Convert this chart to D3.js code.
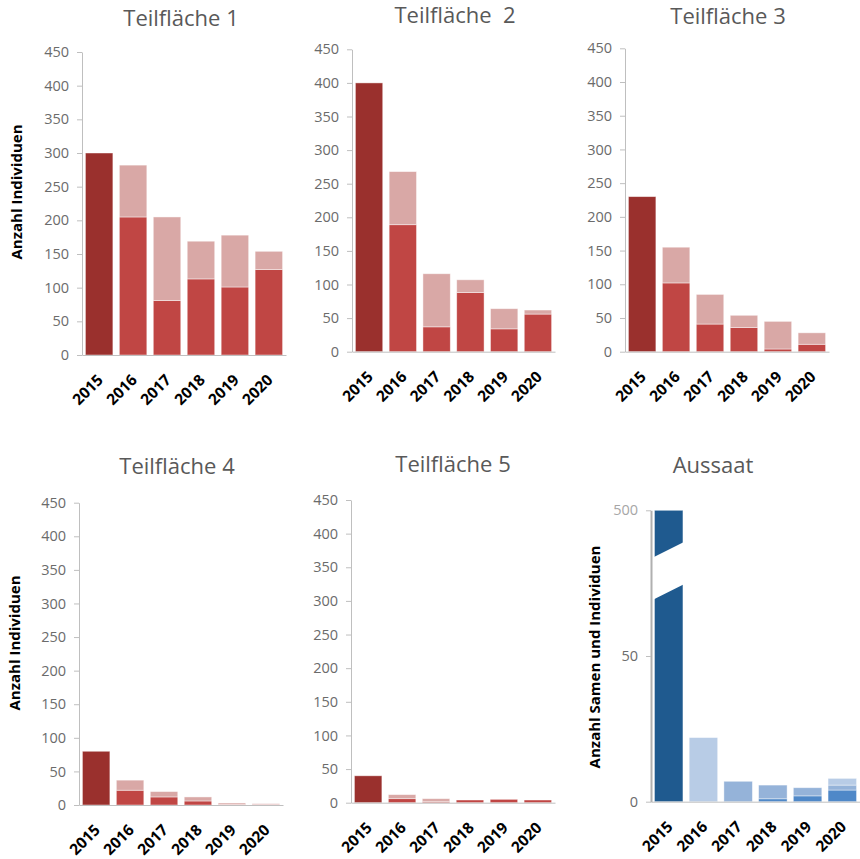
<!DOCTYPE html>
<html>
<head>
<meta charset="utf-8">
<script src="https://cdn.jsdelivr.net/npm/d3@7/dist/d3.min.js"></script>
<style>
  html, body { margin: 0; padding: 0; background: #fff; }
  svg { display: block; }
</style>
</head>
<body>
<svg id="chart" width="860" height="859"></svg>
<script>
// ---------------- DATA ----------------
const years = ["2015", "2016", "2017", "2018", "2019", "2020"];
const yTicksT = [0, 50, 100, 150, 200, 250, 300, 350, 400, 450];

const titles = ["Teilfläche 1", "Teilfläche  2", "Teilfläche 3", "Teilfläche 4", "Teilfläche 5", "Aussaat"];

// lower (dark/red) segment and upper (light) segment per year
const t1Lower = [300, 205, 81, 113, 101, 127];
const t1Upper = [0, 77, 124, 56, 77, 27];
const t2Lower = [400, 189, 37, 88, 34, 56];
const t2Upper = [0, 79, 79, 19, 30, 6];
const t3Lower = [230, 102, 41, 36, 4, 11];
const t3Upper = [0, 53, 44, 18, 41, 17];
const t4Lower = [80, 22, 12, 6, 1, 1];
const t4Upper = [0, 15, 8, 6, 2, 1];
const t5Lower = [40, 6, 2, 4, 5, 4];
const t5Upper = [0, 6, 4, 0, 0, 0];

// Aussaat (stack order bottom -> top)
const ausNavy   = [500, 0, 0, 0, 0, 0];
const ausBright = [0, 0, 0, 1, 2, 4];
const ausMedium = [0, 0, 7, 4.7, 2.8, 1.7];
const ausLight  = [0, 22, 0, 0, 0, 2.3];
const ausTickValues = [0, 50, 100];
const ausTickLabels = ["0", "50", "500"];

// ---------------- STYLE / LAYOUT ----------------
const C = {
  dark: "#9a302d", red: "#c04644", pink: "#d9a8a6",
  navy: "#1f5a8f", bright: "#4f88c8", medium: "#95b3d9", light: "#b8cce6",
  axis: "#bfbfbf", tick: "#6b6b6b", title: "#595959"
};
const FONT = "'Open Sans', 'Liberation Sans', sans-serif";

const panels = [
  { x0: 82,  x1: 286, y0: 355,   yTop: 52,    titleX: 181, titleY: 26,  ylab: { x: 17, y: 192 }, lower: t1Lower, upper: t1Upper },
  { x0: 352, x1: 555, y0: 351.7, yTop: 49.3,  titleX: 455, titleY: 23,  ylab: null,              lower: t2Lower, upper: t2Upper },
  { x0: 625, x1: 829, y0: 351.7, yTop: 48.3,  titleX: 728, titleY: 24,  ylab: null,              lower: t3Lower, upper: t3Upper },
  { x0: 79,  x1: 283, y0: 805,   yTop: 502.7, titleX: 177, titleY: 474, ylab: { x: 15, y: 643 }, lower: t4Lower, upper: t4Upper },
  { x0: 351, x1: 555, y0: 802.7, yTop: 500,   titleX: 453, titleY: 472, ylab: null,              lower: t5Lower, upper: t5Upper }
];

const svg = d3.select("#chart");

function xAxisLabels(g, x, y0) {
  const ax = d3.axisBottom(x).tickSize(0).tickSizeOuter(0);
  const gg = g.append("g").attr("transform", `translate(0,${y0})`).call(ax);
  gg.select(".domain").attr("stroke", C.axis).attr("stroke-width", 1);
  gg.selectAll("text")
    .attr("x", null).attr("y", null).attr("dy", null)
    .attr("transform", "translate(5,26) rotate(-45)")
    .style("text-anchor", "end")
    .attr("fill", "#000")
    .style("font-family", FONT)
    .style("font-weight", "bold")
    .style("font-size", "15.5px");
}

function yAxisLeft(g, y, x0, values, labels) {
  const ax = d3.axisLeft(y).tickValues(values).tickSize(5).tickSizeOuter(0).tickPadding(8);
  if (labels) ax.tickFormat((d, i) => labels[i]);
  const gg = g.append("g").attr("transform", `translate(${x0},0)`).call(ax);
  gg.select(".domain").attr("stroke", C.axis);
  gg.selectAll(".tick line").attr("stroke", C.axis);
  gg.selectAll("text").attr("fill", C.tick)
    .style("font-family", FONT).style("font-size", "14.5px");
  return gg;
}

function title(txt, x, y) {
  svg.append("text").attr("x", x).attr("y", y)
    .attr("text-anchor", "middle")
    .attr("fill", C.title)
    .style("font-family", FONT).style("font-size", "22px")
    .style("white-space", "pre")
    .attr("xml:space", "preserve")
    .text(txt);
}

function ylabel(txt, x, y) {
  svg.append("text")
    .attr("transform", `translate(${x},${y}) rotate(-90)`)
    .attr("text-anchor", "middle").attr("dy", "0.35em")
    .attr("fill", "#000")
    .style("font-family", FONT).style("font-weight", "bold").style("font-size", "15px")
    .text(txt);
}

panels.forEach((p, pi) => {
  const g = svg.append("g");
  const x = d3.scaleBand().domain(years).range([p.x0, p.x1]).paddingInner(0.19).paddingOuter(0.1);
  const y = d3.scaleLinear().domain([0, 450]).range([p.y0, p.yTop]);

  yAxisLeft(g, y, p.x0, yTicksT);

  const rows = years.map((yr, i) => ({ yr, lo: p.lower[i], up: p.upper[i], i }));
  g.selectAll("rect.lo").data(rows).join("rect")
    .attr("x", d => x(d.yr)).attr("width", x.bandwidth())
    .attr("y", d => y(d.lo)).attr("height", d => y(0) - y(d.lo))
    .attr("fill", d => d.i === 0 ? C.dark : C.red)
    .attr("stroke", "rgba(255,255,255,0.55)").attr("stroke-width", 0.8);
  g.selectAll("rect.up").data(rows.filter(d => d.up > 0)).join("rect")
    .attr("x", d => x(d.yr)).attr("width", x.bandwidth())
    .attr("y", d => y(d.lo + d.up)).attr("height", d => y(d.lo) - y(d.lo + d.up))
    .attr("fill", C.pink)
    .attr("stroke", "rgba(255,255,255,0.55)").attr("stroke-width", 0.8);

  xAxisLabels(g, x, p.y0);
  title(titles[pi], p.titleX, p.titleY);
  if (p.ylab) ylabel("Anzahl Individuen", p.ylab.x, p.ylab.y);
});

// ---------------- Aussaat (broken axis) ----------------
(function () {
  const g = svg.append("g");
  const x0 = 651, x1 = 860, y0 = 801.7, yTop = 510.3;
  const x = d3.scaleBand().domain(years).range([x0, x1]).paddingInner(0.18).paddingOuter(0.1);
  const y = d3.scaleLinear().domain([0, 100]).range([y0, yTop]).clamp(true);

  const gg = yAxisLeft(g, y, x0, ausTickValues, ausTickLabels);
  gg.select(".domain").attr("stroke", "#b0b0b0").attr("stroke-width", 2);
  gg.selectAll("text").filter((d, i) => i === 2).attr("fill", "#a6a6a6");

  const series = [
    { vals: ausNavy, color: C.navy },
    { vals: ausBright, color: C.bright },
    { vals: ausMedium, color: C.medium },
    { vals: ausLight, color: C.light }
  ];
  const stacked = [];
  years.forEach((yr, i) => {
    let acc = 0;
    series.forEach(s => {
      const v = s.vals[i];
      if (v > 0) stacked.push({ yr, a: acc, b: acc + v, color: s.color });
      acc += v;
    });
  });
  g.selectAll("rect.s").data(stacked).join("rect")
    .attr("x", d => x(d.yr)).attr("width", x.bandwidth())
    .attr("y", d => y(d.b)).attr("height", d => y(d.a) - y(d.b))
    .attr("fill", d => d.color)
    .attr("stroke", "rgba(255,255,255,0.5)").attr("stroke-width", 0.8);

  // axis break through the 2015 bar
  const bx0 = x(years[0]) - 0.5, bx1 = x(years[0]) + x.bandwidth() + 0.5;
  const pts = [[bx0, y(84)], [bx1, y(89)], [bx1, y(74.5)], [bx0, y(69.5)]];
  g.append("polygon").attr("points", pts.map(p => p.join(",")).join(" ")).attr("fill", "#fff");

  xAxisLabels(g, x, y0);
  title(titles[5], 713, 473);
  ylabel("Anzahl Samen und Individuen", 595, 657);
})();
</script>
</body>
</html>
